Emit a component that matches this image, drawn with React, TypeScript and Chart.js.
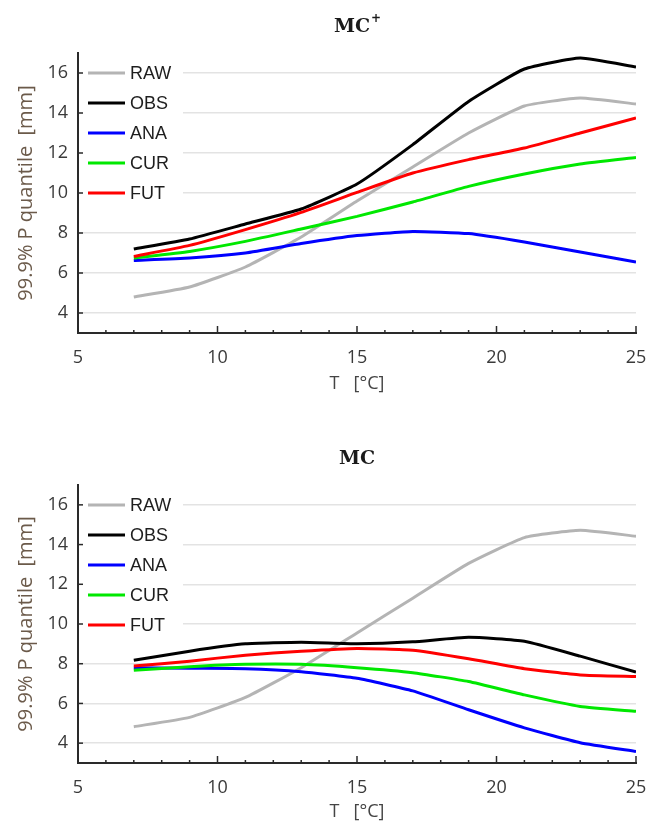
import React, { useEffect, useRef } from "react";
import { Chart, registerables } from "chart.js";

Chart.register(...registerables);

// ---------- data ----------
const T_VALUES = [7, 9, 11, 13, 15, 17, 19, 21, 23, 25];
const SERIES_NAMES = ["RAW", "OBS", "ANA", "CUR", "FUT"];
const SERIES_COLORS = ["#b4b4b4", "#000000", "#0000ff", "#00e800", "#ff0000"];
const Y_TICKS = [4, 6, 8, 10, 12, 14, 16];
const X_TICKS = [5, 10, 15, 20, 25];
const X_MINOR_TICKS = [6, 7, 8, 9, 11, 12, 13, 14, 16, 17, 18, 19, 21, 22, 23, 24];
const X_RANGE = [5, 25];
const Y_RANGE = [3, 17];
const X_TITLE = "T   [°C]";
const Y_TITLE = "99.9% P quantile  [mm]";

// panel 1: MC+
const MCP_TITLE = "MC";
const MCP_SUP = "+";
const MCP_RAW = [4.8, 5.3, 6.3, 7.8, 9.6, 11.3, 13.0, 14.35, 14.75, 14.45];
const MCP_OBS = [7.2, 7.7, 8.45, 9.2, 10.45, 12.42, 14.58, 16.2, 16.75, 16.3];
const MCP_ANA = [6.63, 6.75, 7.0, 7.47, 7.87, 8.08, 7.97, 7.55, 7.05, 6.55];
const MCP_CUR = [6.75, 7.08, 7.58, 8.2, 8.83, 9.55, 10.33, 10.95, 11.45, 11.78];
const MCP_FUT = [6.83, 7.38, 8.17, 9.03, 10.03, 11.0, 11.67, 12.25, 13.0, 13.75];

// panel 2: MC
const MC_TITLE = "MC";
const MC_SUP = "";
const MC_RAW = [4.83, 5.3, 6.3, 7.8, 9.55, 11.3, 13.05, 14.35, 14.72, 14.42];
const MC_OBS = [8.17, 8.63, 9.0, 9.08, 9.0, 9.1, 9.33, 9.13, 8.38, 7.58];
const MC_ANA = [7.8, 7.77, 7.75, 7.6, 7.27, 6.63, 5.68, 4.77, 4.02, 3.58];
const MC_CUR = [7.67, 7.85, 7.97, 7.97, 7.8, 7.55, 7.1, 6.43, 5.85, 5.6];
const MC_FUT = [7.88, 8.13, 8.43, 8.63, 8.77, 8.68, 8.25, 7.75, 7.43, 7.35];

// ---------- styling ----------
const TICK_FONT = { family: "'Open Sans', sans-serif", size: 18 };
const TICK_COLOR = "#3a3a3a";
const AXIS_TITLE_COLOR_Y = "#6b5a4a";
const AXIS_TITLE_COLOR_X = "#444444";
const AXIS_COLOR = "#2a2a2a";
const PLOT_LEFT = 78;
const PLOT_RIGHT = 636;

const decorPlugin = {
  id: "decor",
  beforeDatasetsDraw(chart: any) {
    const { ctx, chartArea } = chart;
    const left = chartArea.left;
    const top = chartArea.top;
    ctx.save();
    ctx.fillStyle = "#ffffff";
    ctx.fillRect(left + 1, top + 6, 104, 20 + 4 * 30 + 12 - 6);
    ctx.font = "18px 'Liberation Sans', Arial, sans-serif";
    ctx.textBaseline = "middle";
    ctx.textAlign = "left";
    SERIES_NAMES.forEach((name, i) => {
      const y = top + 20 + i * 30;
      ctx.strokeStyle = SERIES_COLORS[i];
      ctx.lineWidth = 3;
      ctx.beginPath();
      ctx.moveTo(left + 10, y);
      ctx.lineTo(left + 47, y);
      ctx.stroke();
      ctx.fillStyle = "#1e1e1e";
      ctx.fillText(name, left + 52, y + 1);
    });
    ctx.restore();
  },
  afterDraw(chart: any, _args: any, opts: any) {
    const { ctx, chartArea, scales } = chart;
    const xs = scales.x;
    const ys = scales.y;
    ctx.save();
    ctx.strokeStyle = AXIS_COLOR;
    ctx.lineWidth = 1.5;
    Y_TICKS.forEach((v) => {
      const py = ys.getPixelForValue(v);
      ctx.beginPath();
      ctx.moveTo(chartArea.left, py);
      ctx.lineTo(chartArea.left + 5, py);
      ctx.stroke();
    });
    X_TICKS.forEach((v) => {
      const px = xs.getPixelForValue(v);
      ctx.beginPath();
      ctx.moveTo(px, chartArea.bottom);
      ctx.lineTo(px, chartArea.bottom - 7);
      ctx.stroke();
    });
    X_MINOR_TICKS.forEach((v) => {
      const px = xs.getPixelForValue(v);
      ctx.beginPath();
      ctx.moveTo(px, chartArea.bottom);
      ctx.lineTo(px, chartArea.bottom - 3);
      ctx.stroke();
    });
    const cx = (chartArea.left + chartArea.right) / 2;
    const ty = chartArea.top - 26;
    ctx.fillStyle = "#1a1a1a";
    ctx.textBaseline = "middle";
    ctx.font = "bold 19px 'DejaVu Serif', serif";
    const w = ctx.measureText(opts.title).width;
    ctx.font = "bold 12px 'DejaVu Serif', serif";
    const ws = opts.sup ? ctx.measureText(opts.sup).width : 0;
    const start = cx - (w + ws) / 2;
    ctx.textAlign = "left";
    ctx.font = "bold 19px 'DejaVu Serif', serif";
    ctx.fillText(opts.title, start, ty);
    if (opts.sup) {
      ctx.font = "bold 12px 'DejaVu Serif', serif";
      ctx.fillText(opts.sup, start + w + 1, ty - 8);
    }
    ctx.restore();
  },
};

function makeDatasets(values: number[][]) {
  return SERIES_NAMES.map((name, i) => ({
    label: name,
    data: T_VALUES.map((t, j) => ({ x: t, y: values[i][j] })),
    borderColor: SERIES_COLORS[i],
    backgroundColor: SERIES_COLORS[i],
    borderWidth: 3,
    pointRadius: 0,
    tension: 0.15,
    fill: false,
    order: SERIES_NAMES.length - i,
  }));
}

type PanelProps = {
  height: number;
  plotTop: number;
  plotBottom: number;
  titleOffset: number;
  title: string;
  sup: string;
  values: number[][];
};

function Panel({ height, plotTop, plotBottom, titleOffset, title, sup, values }: PanelProps) {
  const ref = useRef<HTMLCanvasElement | null>(null);
  useEffect(() => {
    if (!ref.current) return;
    const xTitleFontSize = 18;
    const chart = new Chart(ref.current, {
      type: "line",
      data: { datasets: makeDatasets(values) as any },
      plugins: [decorPlugin as any],
      options: {
        animation: false,
        responsive: false,
        devicePixelRatio: 1,
        layout: { padding: { top: plotTop, right: 650 - PLOT_RIGHT, bottom: 0, left: 0 } },
        plugins: {
          legend: { display: false },
          title: { display: false },
          tooltip: { enabled: false },
          decor: { title, sup },
        } as any,
        scales: {
          x: {
            type: "linear",
            min: X_RANGE[0],
            max: X_RANGE[1],
            afterBuildTicks: (s: any) => {
              s.ticks = X_TICKS.map((v) => ({ value: v }));
            },
            afterFit: (s: any) => {
              s.height = height - plotBottom;
              s.paddingLeft = 0;
              s.paddingRight = 0;
            },
            grid: { drawOnChartArea: false, drawTicks: false },
            border: { color: AXIS_COLOR, width: 2 },
            ticks: {
              font: TICK_FONT,
              color: TICK_COLOR,
              padding: 14,
              maxRotation: 0,
              autoSkip: false,
            },
            title: {
              display: true,
              text: X_TITLE,
              font: { family: "'Open Sans', sans-serif", size: xTitleFontSize },
              color: AXIS_TITLE_COLOR_X,
              padding: { top: 0, bottom: titleOffset - (xTitleFontSize * 1.2) / 2 },
            },
          },
          y: {
            type: "linear",
            min: Y_RANGE[0],
            max: Y_RANGE[1],
            afterBuildTicks: (s: any) => {
              s.ticks = Y_TICKS.map((v) => ({ value: v }));
            },
            afterFit: (s: any) => {
              s.width = PLOT_LEFT;
            },
            grid: { color: "#e3e3e3", lineWidth: 1.5, drawTicks: false },
            border: { color: AXIS_COLOR, width: 2 },
            ticks: { font: TICK_FONT, color: TICK_COLOR, padding: 10 },
            title: {
              display: true,
              text: Y_TITLE,
              font: { family: "'Open Sans', sans-serif", size: 20 },
              color: AXIS_TITLE_COLOR_Y,
              padding: { top: 14, bottom: 0 },
            },
          },
        },
      },
    });
    return () => chart.destroy();
  }, []);
  return (
    <canvas
      ref={ref}
      width={650}
      height={height}
      style={{ display: "block", width: 650, height }}
    />
  );
}

export default function App() {
  return (
    <div style={{ position: "absolute", left: 0, top: 0, width: 650, height: 827, background: "#fff" }}>
      <Panel
        height={413}
        plotTop={53}
        plotBottom={333}
        titleOffset={29}
        title={MCP_TITLE}
        sup={MCP_SUP}
        values={[MCP_RAW, MCP_OBS, MCP_ANA, MCP_CUR, MCP_FUT]}
      />
      <Panel
        height={414}
        plotTop={72}
        plotBottom={350}
        titleOffset={15}
        title={MC_TITLE}
        sup={MC_SUP}
        values={[MC_RAW, MC_OBS, MC_ANA, MC_CUR, MC_FUT]}
      />
    </div>
  );
}
